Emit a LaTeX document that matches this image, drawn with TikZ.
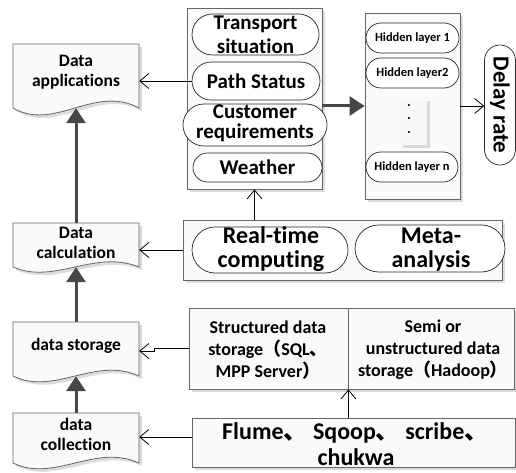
\documentclass[tikz,border=0pt]{standalone}
\usepackage{fontspec}
\setmainfont{Carlito}[Ligatures=NoCommon]
\newfontfamily\cjk{Noto Sans CJK SC}
\usetikzlibrary{arrows.meta,shapes.misc,shadows,fit,calc}
\newcommand\cjp[1]{{\cjk\bfseries #1}}

\tikzset{
  softshadow/.style={drop shadow={shadow xshift=3pt,shadow yshift=-3pt,fill=black!25,opacity=.55}},
  panel/.style={rectangle, draw=black!60, fill=black!2, line width=.8pt, softshadow, inner sep=0pt},
  pill/.style={rounded rectangle, draw=black!85, fill=white, line width=.7pt, inner sep=0pt},
  docfill/.style={draw=black!60, fill=black!2, line width=.8pt, softshadow},
  docarea/.style={inner sep=0pt, draw=none},
  txt/.style={align=center, inner sep=0pt, text=black},
  fdoc/.style={font=\bfseries\fontsize{17.5}{20}\selectfont},
  fpill/.style={font=\bfseries\fontsize{21}{23}\selectfont},
  fbig/.style={font=\bfseries\fontsize{24}{24}\selectfont},
  fstore/.style={font=\bfseries\fontsize{18}{22}\selectfont},
  fhid/.style={font=\bfseries\fontsize{12.5}{14}\selectfont},
  thin arrow/.style={draw=black, line width=.8pt, -{Straight Barb[length=9pt,width=15pt]}},
  thick arrow/.style={draw=black!72, line width=3pt, -{Triangle[length=15pt,width=19pt]}},
}

% document shape with a wavy bottom: name, left, top, right, bottom, wave amplitude
\newcommand\docshape[6]{%
  \path[docfill] (#2,#3) -- (#4,#3) -- (#4,#5)
    .. controls ({#2+0.65*(#4-#2)},{#5-#6}) and ({#2+0.33*(#4-#2)},{#5+#6}) .. (#2,#5) -- cycle;
  \node[docarea, fit={(#2,#3) (#4,#5)}] (#1) {};
}

\begin{document}
\begin{tikzpicture}[x=1pt,y=-1pt]
\useasboundingbox (0,0) rectangle (516,473);

% left column of document shapes
\docshape{apps}{13}{44}{139}{108}{24}
\docshape{calc}{13}{223}{139}{267}{18}
\docshape{storage}{13}{322}{139}{376}{20}
\docshape{coll}{13}{413}{139}{463}{20}
\node[txt,fdoc] (appsT) at (76,72) {Data\\applications};
\node[txt,fdoc] (calcT) at (76,243) {Data\\calculation};
\node[txt,fdoc] (storT) at (76,346) {data storage};
\node[txt,fdoc] (collT) at (76,434) {data\\collection};

% input features panel
\node[panel, minimum width=135pt, minimum height=181pt] (inpanel) at (254.5,98.5) {};
\node[pill, minimum width=127pt, minimum height=41pt] (trans) at (255.5,34.5) {};
\node[pill, minimum width=128pt, minimum height=38pt] (path) at (256,81) {};
\node[pill, minimum width=144pt, minimum height=42pt] (cust) at (255,125) {};
\node[pill, minimum width=129pt, minimum height=29pt] (weather) at (257.5,167.5) {};
\node[txt,fpill,font=\bfseries\fontsize{21}{24}\selectfont] at (trans.center) {Transport\\situation};
\node[txt,fpill] at (path.center) {Path Status};
\node[txt,fpill,font=\bfseries\fontsize{21}{20}\selectfont] at (255,123) {Customer\\requirements};
\node[txt,fpill] at (weather.center) {Weather};

% hidden layers panel
\node[panel, minimum width=95pt, minimum height=186pt] (hidpanel) at (412.5,106) {};
\node[pill, minimum width=93pt, minimum height=30pt, fhid] (h1) at (412.5,38) {Hidden layer 1};
\node[pill, minimum width=93pt, minimum height=30pt, fhid] (h2) at (412.5,73) {Hidden layer2};
\node[pill, minimum width=92pt, minimum height=30pt, fhid] (hn) at (412,167) {Hidden layer n};
\node[inner sep=0pt, fill=black!3, softshadow, fit={(400,98) (427,145)}] (dotbox) {};
\node[txt, font=\bfseries\fontsize{14}{13.5}\selectfont] (dots) at (409,119) {.\\.\\.};

% output
\node[pill, minimum width=120pt, minimum height=31pt, rotate=-90,
      font=\bfseries\fontsize{23}{24}\selectfont] (delay) at (500,105) {Delay rate};

% computing panel
\node[panel, minimum width=319pt, minimum height=60pt] (comp) at (342.5,250) {};
\node[pill, minimum width=156pt, minimum height=46pt] (rt) at (270,250) {};
\node[pill, minimum width=150pt, minimum height=47pt] (meta) at (430,248.5) {};
\node[txt,fbig] at (271,249) {Real-time\\computing};
\node[txt,fbig] at (431,249.5) {Meta-\\analysis};

% storage boxes
\node[panel, minimum width=159pt, minimum height=81pt] (struct) at (268.5,348.5) {};
\node[panel, minimum width=166pt, minimum height=81pt] (semi) at (431,348.5) {};
\node[txt,fstore] at (268,350) {Structured data\\storage\cjp{（}SQL\cjp{、}\\MPP Server\cjp{）}};
\node[txt,fstore] at (433,350) {Semi or\\unstructured data\\storage\cjp{（}Hadoop\cjp{）}};

% collection tools
\node[panel, minimum width=323pt, minimum height=49pt] (flume) at (353.5,442.5) {};
\node[txt,fbig,anchor=base west] at (222,439) {Flume\cjp{、} Sqoop\cjp{、} scribe\cjp{、}};
\node[txt,fbig,anchor=base] at (356,465) {chukwa};

% connectors
\draw[thick arrow] (coll.north) -- (storage.south);
\draw[thick arrow] (storage.north) -- (calc.south);
\draw[thick arrow] (calc.north) -- (apps.south);
\draw[thin arrow] (path.west) -- (path.west -| apps.east);
\draw[thin arrow] (comp.west) -- (comp.west -| calc.east);
\draw[thin arrow] (struct.west) -- ++(-34,0) |- ($(storage.east)+(0,2)$);
\draw[thin arrow] ($(flume.west)+(0,-5.5)$) -- ($(flume.west -| coll.east)+(0,-5.5)$);
\draw[thin arrow] (flume.north -| struct.east) -- (struct.south east);
\draw[thin arrow] (comp.north -| inpanel.south) -- (inpanel.south);
\draw[thick arrow] (inpanel.east |- hidpanel.west) -- (hidpanel.west);
\draw[thin arrow] (hidpanel.east) -- (hidpanel.east -| delay.south);
\end{tikzpicture}
\end{document}
